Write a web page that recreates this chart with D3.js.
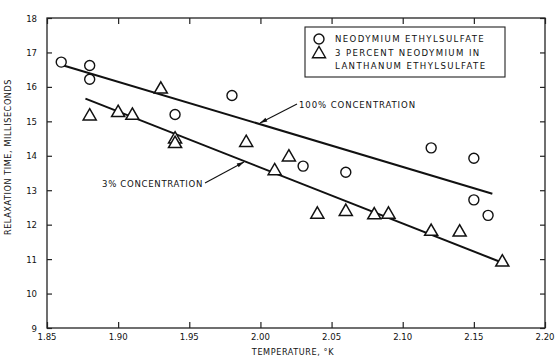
<!DOCTYPE html>
<html lang="en">
<head>
<meta charset="UTF-8">
<title>Relaxation time vs temperature</title>
<script src="https://d3js.org/d3.v7.min.js"></script>
<style>
  body { margin: 0; background: #fff; }
  svg { display: block; }
  text { font-family: "Liberation Sans Narrow", "DejaVu Sans Condensed", "Liberation Sans", sans-serif; fill: #111; }
</style>
</head>
<body>
<svg id="chart" width="556" height="360"></svg>
<script>
  // neodymium ethylsulfate (circles)
  const fullTemp = [1.86, 1.88, 1.88, 1.94, 1.98, 2.03, 2.06, 2.12, 2.15, 2.15, 2.16];
  const fullTime = [16.72, 16.62, 16.22, 15.2, 15.75, 13.7, 13.52, 14.23, 13.93, 12.72, 12.27];
  // 3 percent neodymium in lanthanum ethylsulfate (triangles)
  const dilTemp = [1.88, 1.90, 1.91, 1.93, 1.94, 1.94, 1.99, 2.01, 2.02, 2.04, 2.06, 2.08, 2.09, 2.12, 2.14, 2.17];
  const dilTime = [15.12, 15.22, 15.14, 15.9, 14.45, 14.32, 14.35, 13.53, 13.93, 12.27, 12.35, 12.25, 12.27, 11.77, 11.75, 10.88];
  // fitted lines
  const fit100 = [[1.861, 16.63], [2.163, 12.9]];
  const fit3 = [[1.877, 15.66], [2.171, 10.88]];

  const xTicks = [1.85, 1.90, 1.95, 2.00, 2.05, 2.10, 2.15, 2.20];
  const yTicks = [9, 10, 11, 12, 13, 14, 15, 16, 17, 18];
  const legendRows = ["NEODYMIUM ETHYLSULFATE", "3 PERCENT NEODYMIUM IN", "LANTHANUM ETHYLSULFATE"];

  const svg = d3.select("#chart");
  const L = 47, R = 545, T = 18, B = 328;

  const x = d3.scaleLinear().domain([1.85, 2.20]).range([L, R]);
  const y = d3.scaleLinear().domain([9, 18]).range([B, T]);

  // frame
  svg.append("rect").attr("x", L).attr("y", T).attr("width", R - L).attr("height", B - T)
    .attr("fill", "none").attr("stroke", "#222").attr("stroke-width", 1.3);

  // axes with inward ticks
  const fmtX = d => d3.format(".2f")(d);
  svg.append("g").attr("transform", `translate(0,${B})`)
    .call(d3.axisTop(x).tickValues(xTicks).tickSize(6).tickFormat(""))
    .call(g => g.select(".domain").remove());
  svg.append("g").attr("transform", `translate(0,${T})`)
    .call(d3.axisBottom(x).tickValues(xTicks).tickSize(6).tickFormat(""))
    .call(g => g.select(".domain").remove());
  svg.append("g").attr("transform", `translate(${L},0)`)
    .call(d3.axisRight(y).tickValues(yTicks).tickSize(5).tickFormat(""))
    .call(g => g.select(".domain").remove());
  svg.append("g").attr("transform", `translate(${R},0)`)
    .call(d3.axisLeft(y).tickValues(yTicks).tickSize(5).tickFormat(""))
    .call(g => g.select(".domain").remove());
  svg.selectAll(".tick line").attr("stroke", "#222").attr("stroke-width", 1.2);

  // tick labels
  svg.append("g").selectAll("text").data(xTicks).join("text")
    .attr("x", d => x(d)).attr("y", B + 12).attr("text-anchor", "middle")
    .attr("font-size", 9.5).text(fmtX);
  svg.append("g").selectAll("text").data(yTicks).join("text")
    .attr("x", 37).attr("y", d => y(d) + 3.5).attr("text-anchor", "end")
    .attr("font-size", 9.5).text(d => d);

  // axis titles
  svg.append("text").attr("x", 293).attr("y", 355).attr("text-anchor", "middle")
    .attr("font-size", 9).attr("letter-spacing", 0.6).text("TEMPERATURE, \u00B0K");
  svg.append("text").attr("transform", "translate(11,157) rotate(-90)").attr("text-anchor", "middle")
    .attr("font-size", 9).attr("letter-spacing", 0.6).text("RELAXATION TIME, MILLISECONDS");

  // fit lines
  const line = d3.line().x(d => x(d[0])).y(d => y(d[1]));
  [fit100, fit3].forEach(f => {
    svg.append("path").attr("d", line(f)).attr("fill", "none")
      .attr("stroke", "#111").attr("stroke-width", 2);
  });

  // markers
  const triangle = d3.symbol().type(d3.symbolTriangle).size(74);
  svg.append("g").selectAll("path").data(d3.range(dilTemp.length)).join("path")
    .attr("d", triangle)
    .attr("transform", i => `translate(${x(dilTemp[i])},${y(dilTime[i]) - 1})`)
    .attr("fill", "#fff").attr("stroke", "#111").attr("stroke-width", 1.5);
  svg.append("g").selectAll("circle").data(d3.range(fullTemp.length)).join("circle")
    .attr("cx", i => x(fullTemp[i])).attr("cy", i => y(fullTime[i])).attr("r", 5)
    .attr("fill", "#fff").attr("stroke", "#111").attr("stroke-width", 1.4);

  // arrow marker
  svg.append("defs").append("marker").attr("id", "arrow")
    .attr("viewBox", "0 0 12 10").attr("refX", 12).attr("refY", 5)
    .attr("markerWidth", 12).attr("markerHeight", 6).attr("orient", "auto")
    .attr("markerUnits", "userSpaceOnUse")
    .append("path").attr("d", "M0,1.5 L12,5 L0,8.5 Z").attr("fill", "#111");

  // annotations
  svg.append("text").attr("x", 299).attr("y", 108).attr("font-size", 9.5)
    .attr("letter-spacing", 0.9).text("100% CONCENTRATION");
  svg.append("line").attr("x1", 297).attr("y1", 104).attr("x2", 260).attr("y2", 123)
    .attr("stroke", "#111").attr("stroke-width", 1.1).attr("marker-end", "url(#arrow)");
  svg.append("text").attr("x", 102).attr("y", 187).attr("font-size", 9.5)
    .attr("letter-spacing", 0.7).text("3% CONCENTRATION");
  svg.append("line").attr("x1", 205).attr("y1", 183).attr("x2", 244).attr("y2", 162)
    .attr("stroke", "#111").attr("stroke-width", 1.1).attr("marker-end", "url(#arrow)");

  // legend
  const lg = svg.append("g");
  lg.append("rect").attr("x", 305).attr("y", 27).attr("width", 200).attr("height", 50)
    .attr("fill", "#fff").attr("stroke", "#222").attr("stroke-width", 1.1);
  lg.append("circle").attr("cx", 319).attr("cy", 39).attr("r", 5)
    .attr("fill", "#fff").attr("stroke", "#111").attr("stroke-width", 1.4);
  lg.append("path").attr("d", triangle).attr("transform", "translate(319,54)")
    .attr("fill", "#fff").attr("stroke", "#111").attr("stroke-width", 1.4);
  lg.selectAll("text").data(legendRows).join("text")
    .attr("x", 335).attr("y", (d, i) => 42 + i * 13.5)
    .attr("font-size", 9.5).attr("letter-spacing", 1.4).text(d => d);
</script>
</body>
</html>
